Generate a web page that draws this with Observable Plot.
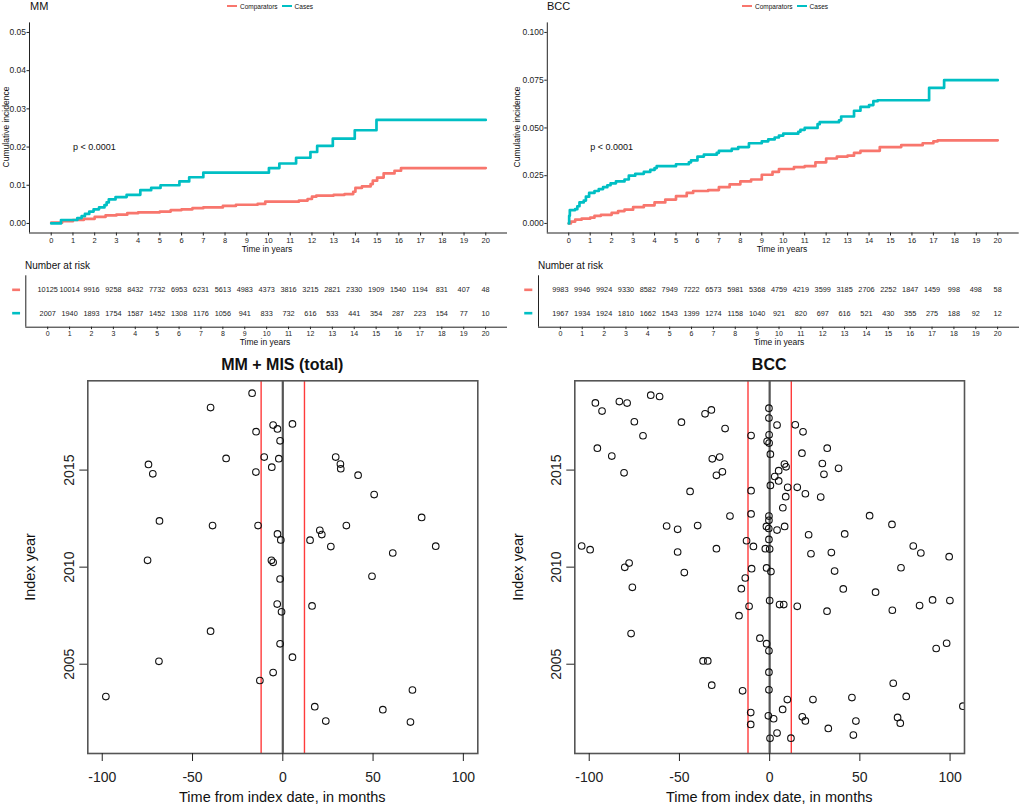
<!DOCTYPE html>
<html><head><meta charset="utf-8">
<script src="https://cdn.jsdelivr.net/npm/d3@7"></script>
<script src="https://cdn.jsdelivr.net/npm/@observablehq/plot@0.6"></script>
<style>
body{margin:0;background:#fff;}
#wrap{position:relative;width:1019px;height:804px;overflow:hidden;background:#fff;font-family:"Liberation Sans",Arial,Helvetica,sans-serif;color:#111;}
#wrap svg{overflow:visible;}
.lbl{position:absolute;white-space:nowrap;line-height:1;}
</style></head><body><div id="wrap"></div>
<script>
// ---------- DATA ----------
const groups = ["Comparators", "Cases"];
const groupColors = ["#F8766D", "#00BFC4"];
const yearTicks = d3.range(0, 21);
const riskYears = d3.range(0, 21);

// Cumulative incidence step curves: [time in years, cumulative incidence]
const mmCases = [[0,0],[0.45,0.0009],[1.2,0.0014],[1.4,0.0019],[1.55,0.0025],[1.75,0.0031],[1.95,0.0037],[2.2,0.0042],[2.45,0.0048],[2.55,0.0055],[2.65,0.0063],[2.96,0.0069],[3.47,0.0075],[4.1,0.0087],[4.6,0.0093],[5.03,0.0100],[5.9,0.0110],[6.35,0.0121],[7.0,0.0133],[10.02,0.0145],[10.5,0.0157],[11.27,0.0172],[11.93,0.0187],[12.24,0.0203],[12.96,0.0222],[13.97,0.0244],[14.97,0.0271],[20,0.0271]];
const mmComp = [[0,0.0002],[0.5,0.0006],[1.0,0.0009],[1.5,0.0012],[2.0,0.0017],[2.5,0.0021],[3.0,0.0023],[3.5,0.0027],[4.0,0.0029],[5.0,0.0031],[5.5,0.0035],[6.0,0.0037],[6.5,0.0040],[7.0,0.0042],[7.9,0.0046],[8.5,0.0049],[9.5,0.0051],[9.85,0.0057],[11.4,0.0060],[11.8,0.0064],[12.0,0.0070],[12.2,0.0073],[13.0,0.0075],[13.5,0.0077],[13.9,0.0083],[14.0,0.0093],[14.3,0.0097],[14.7,0.0103],[14.8,0.0112],[15.0,0.0120],[15.3,0.0131],[15.8,0.0138],[16.1,0.0145],[20,0.0145]];
const bccCases = [[0,0],[0.02,0.004],[0.05,0.007],[0.3,0.0075],[0.4,0.009],[0.5,0.011],[0.7,0.012],[0.8,0.014],[0.95,0.016],[1.2,0.017],[1.4,0.018],[1.6,0.019],[1.8,0.020],[1.95,0.021],[2.2,0.022],[2.6,0.023],[2.8,0.025],[3.1,0.026],[3.5,0.027],[3.8,0.028],[4.0,0.029],[4.1,0.030],[5.0,0.031],[5.6,0.032],[5.7,0.033],[6.0,0.035],[6.3,0.036],[6.9,0.037],[7.0,0.038],[7.6,0.039],[7.9,0.040],[8.4,0.042],[9.0,0.043],[9.3,0.044],[9.6,0.045],[9.8,0.046],[10.0,0.047],[10.7,0.048],[10.8,0.049],[11.0,0.050],[11.6,0.052],[11.7,0.053],[12.6,0.054],[12.7,0.056],[13.3,0.059],[13.6,0.061],[14.0,0.062],[14.2,0.064],[14.4,0.0645],[16.8,0.071],[17.5,0.075],[20,0.075]];
const bccComp = [[0,0],[0.1,0.001],[0.3,0.002],[0.6,0.0025],[1.0,0.003],[1.2,0.004],[1.5,0.0045],[2.0,0.0055],[2.3,0.0065],[2.6,0.0072],[3.0,0.0085],[3.5,0.0095],[4.0,0.011],[4.5,0.0125],[5.0,0.0143],[5.5,0.016],[5.8,0.017],[6.5,0.0175],[7.0,0.019],[7.5,0.0205],[8.0,0.022],[8.5,0.023],[9.0,0.0255],[9.5,0.027],[9.8,0.0285],[10.5,0.0295],[11.0,0.030],[11.5,0.032],[12.0,0.034],[12.5,0.035],[13.0,0.0355],[13.3,0.037],[13.6,0.038],[14.5,0.040],[15.5,0.041],[16.5,0.042],[17.0,0.043],[17.2,0.0435],[20,0.0435]];

const mmYTicks = [0, 0.01, 0.02, 0.03, 0.04, 0.05];
const bccYTicks = [0, 0.025, 0.05, 0.075, 0.1];
const mmPval = [1, 0.02];
const bccPval = [1, 0.04];
const pvalText = "p < 0.0001";

// Number at risk
const mmRiskComp = [10125,10014,9916,9258,8432,7732,6953,6231,5613,4983,4373,3816,3215,2821,2330,1909,1540,1194,831,407,48];
const mmRiskCases = [2007,1940,1893,1754,1587,1452,1308,1176,1056,941,833,732,616,533,441,354,287,223,154,77,10];
const bccRiskComp = [9983,9946,9924,9330,8582,7949,7222,6573,5981,5368,4759,4219,3599,3185,2706,2252,1847,1459,998,498,58];
const bccRiskCases = [1967,1934,1924,1810,1662,1543,1399,1274,1158,1040,921,820,697,616,521,430,355,275,188,92,12];

// Scatter: [time from index date (months), index year]
const mmPoints = [[-17.0,2018.96],[-40.0,2018.22],[-5.35,2017.32],[5.35,2017.38],[-2.95,2017.12],[-14.8,2016.98],[-1.5,2016.51],[-31.4,2015.60],[-10.3,2015.67],[-2.2,2015.59],[-6.1,2015.15],[-14.9,2014.90],[-74.4,2015.29],[-72.0,2014.81],[29.3,2015.67],[31.9,2015.31],[32.1,2015.07],[41.7,2014.74],[50.6,2013.74],[-68.3,2012.38],[-38.9,2012.14],[-13.7,2012.14],[76.9,2012.56],[35.2,2012.14],[20.5,2011.90],[21.6,2011.68],[-2.95,2011.71],[-1.1,2011.40],[15.1,2011.39],[26.6,2011.06],[84.7,2011.08],[60.9,2010.73],[-74.9,2010.35],[-6.3,2010.35],[-5.35,2010.25],[49.4,2009.53],[-1.5,2009.39],[-3.1,2008.10],[16.2,2008.0],[-0.7,2007.70],[-40.0,2006.70],[-1.5,2006.05],[5.35,2005.36],[-68.6,2005.15],[-5.35,2004.57],[-12.7,2004.16],[-98.0,2003.33],[71.8,2003.67],[17.7,2002.81],[55.4,2002.66],[23.8,2002.07],[70.7,2002.02]];
const bccPoints = [[-65.9,2018.86],[-61.0,2018.79],[-96.6,2018.46],[-83.3,2018.53],[-79.0,2018.45],[-92.9,2018.04],[-32.3,2018.10],[-35.8,2017.90],[-0.4,2018.19],[-0.4,2017.68],[-75.0,2017.49],[-48.9,2017.47],[4.1,2017.32],[14.2,2017.33],[-24.7,2017.14],[18.5,2016.97],[-70.2,2016.77],[-10.3,2016.78],[-0.3,2016.82],[-1.4,2016.48],[-0.3,2016.39],[0.4,2015.82],[-95.5,2016.13],[31.9,2016.13],[-87.5,2015.72],[17.9,2015.87],[-31.8,2015.58],[-27.7,2015.67],[8.2,2015.31],[9.1,2015.17],[29.2,2015.34],[38.2,2015.09],[5.0,2014.97],[-80.7,2014.86],[-26.2,2014.91],[-29.5,2014.73],[30.1,2014.78],[2.8,2014.67],[5.0,2014.44],[0.4,2014.21],[10.0,2014.11],[15.3,2014.11],[-10.3,2013.94],[-44.1,2013.90],[19.8,2013.78],[8.9,2013.63],[28.3,2013.61],[7.3,2013.06],[-22.0,2012.63],[-10.3,2012.74],[-0.4,2012.63],[-0.4,2012.41],[55.4,2012.65],[-57.1,2012.12],[-51.0,2011.95],[-39.9,2012.14],[-1.8,2012.10],[-0.5,2011.99],[4.1,2011.91],[8.3,2012.10],[67.8,2012.20],[21.6,2011.67],[41.6,2011.71],[-104.2,2011.09],[-99.5,2010.90],[-12.8,2011.36],[-9.0,2011.07],[-0.4,2011.43],[-2.4,2010.95],[0.0,2010.93],[-29.5,2010.95],[-51.0,2010.78],[22.9,2010.69],[34.2,2010.75],[79.6,2011.09],[83.8,2010.73],[99.5,2010.54],[-80.3,2009.99],[-77.9,2010.21],[-10.0,2009.92],[-1.7,2009.96],[0.7,2009.77],[-47.3,2009.72],[36.0,2009.80],[72.8,2009.97],[-13.5,2009.44],[-76.1,2008.96],[-15.7,2008.89],[40.8,2008.88],[58.7,2008.71],[0.0,2008.28],[90.3,2008.31],[99.9,2008.28],[-11.4,2007.98],[5.5,2008.07],[7.8,2008.07],[15.3,2007.98],[83.1,2008.02],[31.8,2007.73],[68.0,2007.78],[-17.0,2007.50],[-76.8,2006.58],[-5.4,2006.34],[-1.7,2006.06],[-0.4,2005.69],[98.1,2006.08],[92.3,2005.81],[-36.9,2005.17],[-34.3,2005.17],[-0.4,2004.59],[-32.1,2003.92],[-15.0,2003.63],[-0.4,2003.68],[68.5,2004.02],[75.7,2003.34],[9.8,2003.18],[24.0,2003.18],[45.6,2003.28],[107.1,2002.84],[7.2,2002.67],[-10.5,2002.51],[-0.7,2002.34],[2.2,2002.19],[18.1,2002.29],[19.8,2002.08],[47.8,2002.07],[70.9,2002.26],[72.4,2001.96],[-10.5,2001.90],[32.5,2001.69],[4.1,2001.45],[46.4,2001.35],[0.2,2001.18],[11.8,2001.19]];
const monthTicks = [-100, -50, 0, 50, 100];
const indexYearTicks = [2005, 2010, 2015];
const windowMonths = [-12, 12];

// ---------- DRAWING ----------
const FONT = "'Liberation Sans', Arial, Helvetica, sans-serif";
const wrap = document.getElementById("wrap");
function place(node, left, top) {
  node.style.position = "absolute"; node.style.left = left + "px"; node.style.top = top + "px";
  wrap.appendChild(node);
}
function label(text, cx, cy, size, extra = {}) {
  const d = document.createElement("div");
  d.className = "lbl"; d.textContent = text;
  Object.assign(d.style, {left: cx + "px", top: cy + "px", fontSize: size + "px", transform: "translate(-50%,-50%)"}, extra);
  wrap.appendChild(d); return d;
}
function labelLeft(text, x, cy, size, extra = {}) {
  const d = document.createElement("div");
  d.className = "lbl"; d.textContent = text;
  Object.assign(d.style, {left: x + "px", top: cy + "px", fontSize: size + "px", transform: "translateY(-50%)"}, extra);
  wrap.appendChild(d); return d;
}
const color = {domain: groups, range: groupColors};

function km(cfg) {
  const data = [
    ...cfg.comp.map(([t, v]) => ({t, v, g: groups[0]})),
    ...cfg.cases.map(([t, v]) => ({t, v, g: groups[1]}))
  ];
  return Plot.plot({
    width: cfg.width, height: 252,
    marginLeft: cfg.mL, marginRight: cfg.mR, marginTop: 22.4, marginBottom: 19.5,
    style: {fontFamily: FONT, fontSize: "7.5px", color: "#222", background: "transparent", overflow: "visible"},
    x: {domain: [-1, 21]},
    y: {domain: cfg.yDomain},
    color,
    marks: [
      Plot.ruleX([-1], {stroke: "#222", strokeWidth: 1}),
      Plot.ruleY([cfg.yDomain[0]], {stroke: "#222", strokeWidth: 1}),
      Plot.axisX({ticks: yearTicks, tickSize: 3, tickPadding: 1.5, tickFormat: d => String(d), label: null, fontSize: 7.5}),
      Plot.axisY({ticks: cfg.yTicks, tickSize: 2.5, tickPadding: 1, tickFormat: cfg.fmt, label: null, fontSize: 8.5}),
      Plot.line(data, {x: "t", y: "v", z: "g", stroke: "g", curve: "step-after", strokeWidth: 2.7}),
      Plot.text([cfg.pval], {x: d => d[0], y: d => d[1], text: () => pvalText, textAnchor: "start", fontSize: 9, fill: "#111"})
    ]
  });
}

function risk(cfg) {
  const rows = [];
  riskYears.forEach((yr, i) => {
    rows.push({t: yr, row: 2, n: cfg.comp[i]});
    rows.push({t: yr, row: 1, n: cfg.cases[i]});
  });
  const keys = [{row: 2, g: groups[0]}, {row: 1, g: groups[1]}];
  return Plot.plot({
    width: cfg.width, height: 90,
    marginLeft: cfg.mL, marginRight: cfg.mR, marginTop: 20.3, marginBottom: 18.3,
    style: {fontFamily: FONT, fontSize: "7px", color: "#222", background: "transparent", overflow: "visible"},
    x: {domain: [-1, 21]},
    y: {domain: [0.4, 2.6], axis: null},
    color,
    marks: [
      Plot.ruleX([-1], {stroke: "#222", strokeWidth: 1}),
      Plot.ruleY([0.4], {stroke: "#222", strokeWidth: 1}),
      Plot.axisX({ticks: riskYears, tickSize: 2.5, tickPadding: 1.5, tickFormat: d => String(d), label: null, fontSize: 7}),
      Plot.text(rows, {x: "t", y: "row", text: d => String(d.n), fontSize: 7.3, fill: "#222"}),
      Plot.ruleY(keys, {y: "row", stroke: "g", x1: cfg.keyX[0], x2: cfg.keyX[1], strokeWidth: 2.6})
    ]
  });
}

function scatter(cfg) {
  return Plot.plot({
    width: cfg.width, height: 464,
    marginLeft: cfg.mL, marginRight: cfg.mR, marginTop: 40.3, marginBottom: 51,
    style: {fontFamily: FONT, fontSize: "14px", color: "#222", background: "transparent", overflow: "visible"},
    x: {domain: [-108, 108]},
    y: {domain: [2000.4, 2019.6]},
    marks: [
      Plot.ruleX(windowMonths, {stroke: "#ff3b3b", strokeWidth: 1.4}),
      Plot.ruleX([0], {stroke: "#555", strokeWidth: 2.2}),
      Plot.dot(cfg.points, {x: d => d[0], y: d => d[1], r: 3.3, stroke: "#111", strokeWidth: 1.1, fill: "none", clip: true}),
      Plot.frame({stroke: "#555", strokeWidth: 1.6}),
      Plot.axisX({ticks: monthTicks, tickSize: 8, tickPadding: 11, tickFormat: d => String(d), label: null, fontSize: 14}),
      Plot.axisY({ticks: indexYearTicks, tickSize: 8, tickRotate: -90, tickPadding: 6, tickFormat: d => String(d), label: null, fontSize: 14})
    ]
  });
}

// Top KM panels
place(km({width: 510, mL: 29, mR: 3, yDomain: [-0.0025, 0.0525], yTicks: mmYTicks, fmt: d3.format(".2f"), comp: mmComp, cases: mmCases, pval: mmPval}), 0, 0);
place(km({width: 509, mL: 36.8, mR: 0.3, yDomain: [-0.005, 0.105], yTicks: bccYTicks, fmt: d3.format(".3f"), comp: bccComp, cases: bccCases, pval: bccPval}), 510, 0);

// Risk tables
place(risk({width: 510, mL: 25.3, mR: 3, comp: mmRiskComp, cases: mmRiskCases, keyX: [-1.6, -1.24]}), 0, 255);
place(risk({width: 509, mL: 28, mR: 0, comp: bccRiskComp, cases: bccRiskCases, keyX: [-1.63, -1.26]}), 510, 255);

// Scatter panels
place(scatter({width: 510, mL: 87.3, mR: 32.7, points: mmPoints}), 0, 340);
place(scatter({width: 509, mL: 64.3, mR: 55, points: bccPoints}), 510, 340);

// ---------- TEXT ----------
labelLeft("MM", 30, 6, 11);
labelLeft("BCC", 547, 6, 11);
function legend(x) {
  const d = document.createElement("div");
  Object.assign(d.style, {position: "absolute", left: x + "px", top: "1px", height: "10px", display: "flex", alignItems: "center", fontSize: "6.5px", gap: "0px", whiteSpace: "nowrap"});
  groups.forEach((g, i) => {
    const k = document.createElement("span");
    Object.assign(k.style, {display: "inline-block", width: "10px", height: "2.6px", background: groupColors[i], marginRight: "3px", marginLeft: i ? "4px" : "0"});
    const t = document.createElement("span"); t.textContent = g;
    d.appendChild(k); d.appendChild(t);
  });
  wrap.appendChild(d);
}
legend(227);
legend(742);
label("Cumulative incidence", 6, 127, 8.5, {transform: "translate(-50%,-50%) rotate(-90deg)"});
label("Cumulative incidence", 517, 127, 8.5, {transform: "translate(-50%,-50%) rotate(-90deg)"});
label("Time in years", 267, 249, 8.5);
label("Time in years", 782, 249, 8.5);
labelLeft("Number at risk", 25, 266, 10);
labelLeft("Number at risk", 538, 266, 10);
label("Time in years", 265, 342, 8.5);
label("Time in years", 779, 342, 8.5);

label("MM + MIS (total)", 282.3, 365, 16, {fontWeight: "bold"});
label("BCC", 769.2, 365, 16, {fontWeight: "bold"});
label("Time from index date, in months", 282.3, 797, 14.5);
label("Time from index date, in months", 769.2, 797, 14.5);
label("Index year", 30, 567, 14.5, {transform: "translate(-50%,-50%) rotate(-90deg)"});
label("Index year", 518, 567, 14.5, {transform: "translate(-50%,-50%) rotate(-90deg)"});
</script>
</body></html>
